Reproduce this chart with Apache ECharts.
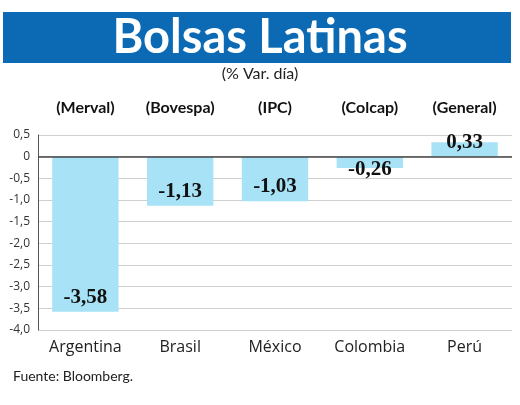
<!DOCTYPE html>
<html>
<head>
<meta charset="utf-8">
<script src="https://cdn.jsdelivr.net/npm/echarts@6/dist/echarts.min.js"></script>
<style>
  html, body { margin: 0; padding: 0; background: #fff; }
  #chart { width: 520px; height: 405px; }
</style>
</head>
<body>
<div id="chart"></div>
<script>
(function(){
  // Datos
  const countries = ["Argentina", "Brasil", "México", "Colombia", "Perú"];
  const indices = ["(Merval)", "(Bovespa)", "(IPC)", "(Colcap)", "(General)"];
  const values = [-3.58, -1.13, -1.03, -0.26, 0.33];
  const yTicks = [0.5, 0, -0.5, -1.0, -1.5, -2.0, -2.5, -3.0, -3.5, -4.0];
  const yTickLabels = ["0,5", "0", "-0,5", "-1,0", "-1,5", "-2,0", "-2,5", "-3,0", "-3,5", "-4,0"];

  const chart = echarts.init(document.getElementById("chart"));

  const fmt = v => v.toFixed(2).replace(".", ",");

  const option = {
    animation: false,
    backgroundColor: "#fff",
    graphic: [
      { type: "rect", left: 3, top: 12, shape: { width: 508, height: 51 }, style: { fill: "#0b6ab3" } },
      { type: "text", left: "center", top: 14, style: { text: "Bolsas Latinas", fill: "#fff", font: "bold 47px Lato" } },
      { type: "text", left: "center", top: 66, style: { text: "(% Var. día)", fill: "#222", font: "16px Lato" } },
      { type: "text", left: 13, top: 369, style: { text: "Fuente: Bloomberg.", fill: "#222", font: "14px Lato" } }
    ],
    grid: { left: 38, right: 8, top: 135, bottom: 75 },
    xAxis: [
      {
        type: "category", data: countries, position: "bottom",
        axisLine: { show: false }, axisTick: { show: false },
        axisLabel: { color: "#222", fontSize: 16, fontFamily: "'Open Sans'", margin: 9 }
      },
      {
        type: "category", data: indices, position: "top",
        axisLine: { show: false }, axisTick: { show: false },
        axisLabel: { color: "#111", fontSize: 16, fontWeight: "bold", fontFamily: "Lato", margin: 19 }
      }
    ],
    yAxis: {
      type: "value", min: -4, max: 0.5, interval: 0.5,
      axisLine: { show: true, onZero: false, lineStyle: { color: "#555" } },
      axisTick: { show: false },
      axisLabel: {
        color: "#333", fontSize: 12, fontFamily: "'Open Sans'", margin: 8,
        formatter: v => {
          const i = yTicks.findIndex(t => Math.abs(t - v) < 1e-6);
          return i >= 0 ? yTickLabels[i] : "";
        }
      },
      splitLine: { lineStyle: { color: "#cfcfcf", width: 1 } }
    },
    series: [{
      type: "bar",
      data: values.map(v => ({
        value: v,
        label: Math.abs(v) < 0.3 && v < 0 ? { offset: [0, 16] } : {}
      })),
      barWidth: "70%",
      itemStyle: { color: "#a8e2f6" },
      label: {
        show: true, position: "insideBottom", distance: 4,
        color: "#111", fontSize: 21, fontWeight: "bold", fontFamily: "'Liberation Serif'",
        formatter: p => fmt(p.value)
      },
      markLine: {
        silent: true, symbol: "none", label: { show: false },
        lineStyle: { color: "#444", type: "solid", width: 1.5 },
        data: [{ yAxis: 0 }]
      }
    }]
  };

  chart.setOption(option);
  window.addEventListener("resize", () => chart.resize());
})();
</script>
</body>
</html>
